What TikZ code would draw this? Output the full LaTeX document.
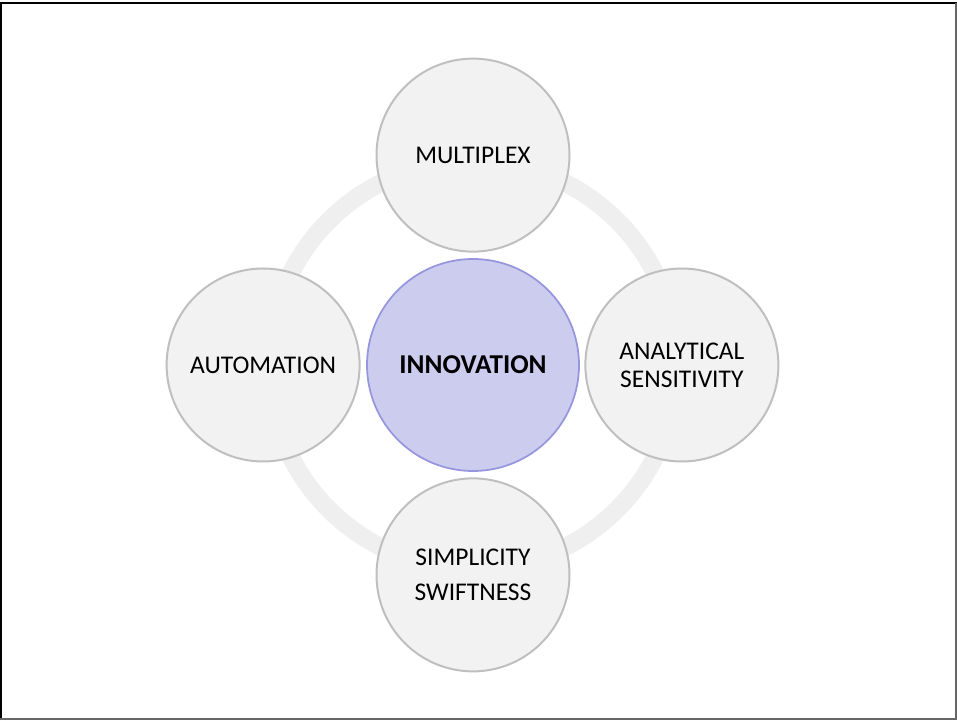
\documentclass[tikz,border=0pt]{standalone}
\usepackage{fontspec}
\setmainfont{Carlito}
\usetikzlibrary{positioning}
\definecolor{ringgray}{RGB}{239,239,239}
\definecolor{petalfill}{RGB}{242,242,242}
\definecolor{petaldraw}{RGB}{191,191,191}
\definecolor{hubfill}{RGB}{204,204,238}
\definecolor{hubdraw}{RGB}{150,150,222}

\begin{document}
\begin{tikzpicture}[
    node distance=0.11cm,
    hub/.style={circle, draw=hubdraw, fill=hubfill, line width=0.035cm, minimum size=4.24cm, inner sep=0pt, align=center, font=\fontsize{15.5}{17}\selectfont\bfseries},
    petal/.style={circle, draw=petaldraw, fill=petalfill, line width=0.04cm, minimum size=3.86cm, inner sep=0pt, align=center, font=\fontsize{14.5}{16}\selectfont},
    ring/.style={draw=ringgray, line width=0.36cm}
]
\useasboundingbox (0,0) rectangle (19.14,14.4);

% Frame
\draw[black, line width=0.05cm] (0.02,0) -- (0.02,14.34) -- (19.14,14.34);
\draw[black!60, line width=0.04cm] (19.125,14.34) -- (19.125,0.03) -- (0,0.03);

% Background ring
\draw[ring] (9.46,7.10) circle (4.08cm);

% Centre
\node[hub] (innovation) at (9.46,7.10) {INNOVATION};

% Surrounding circles
\node[petal, above=of innovation] (multiplex) {MULTIPLEX};
\node[petal, left=of innovation] (automation) {AUTOMATION};
\node[petal, right=0.09cm of innovation] (sensitivity) {ANALYTICAL\\SENSITIVITY};
\node[petal, below=of innovation] (simplicity) {SIMPLICITY\\[4pt]SWIFTNESS};

\end{tikzpicture}
\end{document}
